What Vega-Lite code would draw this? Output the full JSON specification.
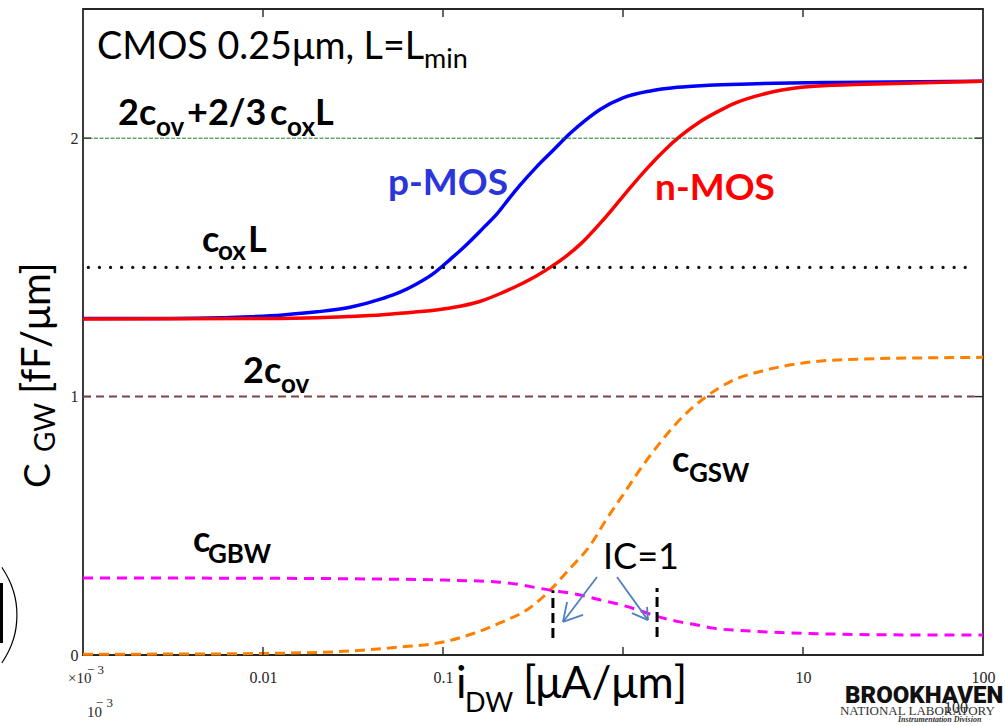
{
  "$schema": "https://vega.github.io/schema/vega-lite/v6.json",
  "width": 900,
  "height": 646,
  "autosize": {"type": "none"},
  "padding": {"left": 83, "top": 9, "right": 22, "bottom": 71},
  "background": "white",
  "config": {
    "view": {"stroke": "#262626", "strokeWidth": 1.8},
    "axis": {
      "domain": false,
      "grid": false,
      "ticks": false,
      "labelFont": "Liberation Serif",
      "labelFontSize": 16,
      "labelColor": "#262626",
      "title": null
    }
  },
  "datasets": {
    "curves": [
      {"series": "p-MOS", "x": 0.001, "y": 1.302},
      {"series": "p-MOS", "x": 0.003, "y": 1.302},
      {"series": "p-MOS", "x": 0.006, "y": 1.305},
      {"series": "p-MOS", "x": 0.0085, "y": 1.309},
      {"series": "p-MOS", "x": 0.0129, "y": 1.316},
      {"series": "p-MOS", "x": 0.02, "y": 1.328},
      {"series": "p-MOS", "x": 0.0305, "y": 1.346},
      {"series": "p-MOS", "x": 0.0464, "y": 1.38},
      {"series": "p-MOS", "x": 0.0577, "y": 1.404},
      {"series": "p-MOS", "x": 0.0713, "y": 1.436},
      {"series": "p-MOS", "x": 0.088, "y": 1.475},
      {"series": "p-MOS", "x": 0.11, "y": 1.532},
      {"series": "p-MOS", "x": 0.136, "y": 1.59},
      {"series": "p-MOS", "x": 0.167, "y": 1.652},
      {"series": "p-MOS", "x": 0.2, "y": 1.708},
      {"series": "p-MOS", "x": 0.235, "y": 1.77},
      {"series": "p-MOS", "x": 0.268, "y": 1.818},
      {"series": "p-MOS", "x": 0.33, "y": 1.888},
      {"series": "p-MOS", "x": 0.408, "y": 1.952},
      {"series": "p-MOS", "x": 0.507, "y": 2.018},
      {"series": "p-MOS", "x": 0.62, "y": 2.07},
      {"series": "p-MOS", "x": 0.75, "y": 2.112},
      {"series": "p-MOS", "x": 1.0, "y": 2.156},
      {"series": "p-MOS", "x": 1.42, "y": 2.183},
      {"series": "p-MOS", "x": 2.0, "y": 2.197},
      {"series": "p-MOS", "x": 3.0, "y": 2.205},
      {"series": "p-MOS", "x": 5.0, "y": 2.21},
      {"series": "p-MOS", "x": 15.0, "y": 2.216},
      {"series": "p-MOS", "x": 100.0, "y": 2.22},
      {"series": "n-MOS", "x": 0.001, "y": 1.3},
      {"series": "n-MOS", "x": 0.01, "y": 1.302},
      {"series": "n-MOS", "x": 0.02, "y": 1.305},
      {"series": "n-MOS", "x": 0.03, "y": 1.31},
      {"series": "n-MOS", "x": 0.0464, "y": 1.317},
      {"series": "n-MOS", "x": 0.07, "y": 1.327},
      {"series": "n-MOS", "x": 0.11, "y": 1.343},
      {"series": "n-MOS", "x": 0.16, "y": 1.368},
      {"series": "n-MOS", "x": 0.207, "y": 1.398},
      {"series": "n-MOS", "x": 0.268, "y": 1.434},
      {"series": "n-MOS", "x": 0.33, "y": 1.467},
      {"series": "n-MOS", "x": 0.4, "y": 1.503},
      {"series": "n-MOS", "x": 0.48, "y": 1.542},
      {"series": "n-MOS", "x": 0.576, "y": 1.588},
      {"series": "n-MOS", "x": 0.774, "y": 1.683},
      {"series": "n-MOS", "x": 1.0, "y": 1.775},
      {"series": "n-MOS", "x": 1.3, "y": 1.868},
      {"series": "n-MOS", "x": 1.67, "y": 1.948},
      {"series": "n-MOS", "x": 2.08, "y": 2.008},
      {"series": "n-MOS", "x": 2.68, "y": 2.064},
      {"series": "n-MOS", "x": 3.3, "y": 2.1},
      {"series": "n-MOS", "x": 4.1, "y": 2.133},
      {"series": "n-MOS", "x": 6.3, "y": 2.174},
      {"series": "n-MOS", "x": 9.5, "y": 2.196},
      {"series": "n-MOS", "x": 14.6, "y": 2.205},
      {"series": "n-MOS", "x": 22.4, "y": 2.209},
      {"series": "n-MOS", "x": 100.0, "y": 2.22},
      {"series": "cGSW", "x": 0.001, "y": 0.003},
      {"series": "cGSW", "x": 0.005, "y": 0.004},
      {"series": "cGSW", "x": 0.01, "y": 0.006},
      {"series": "cGSW", "x": 0.0245, "y": 0.012},
      {"series": "cGSW", "x": 0.0577, "y": 0.031},
      {"series": "cGSW", "x": 0.1, "y": 0.05},
      {"series": "cGSW", "x": 0.15, "y": 0.085},
      {"series": "cGSW", "x": 0.207, "y": 0.124},
      {"series": "cGSW", "x": 0.3, "y": 0.18},
      {"series": "cGSW", "x": 0.394, "y": 0.251},
      {"series": "cGSW", "x": 0.5, "y": 0.33},
      {"series": "cGSW", "x": 0.66, "y": 0.426},
      {"series": "cGSW", "x": 0.8, "y": 0.52},
      {"series": "cGSW", "x": 1.0, "y": 0.62},
      {"series": "cGSW", "x": 1.25, "y": 0.72},
      {"series": "cGSW", "x": 1.6, "y": 0.82},
      {"series": "cGSW", "x": 2.0, "y": 0.9},
      {"series": "cGSW", "x": 2.9, "y": 1.0},
      {"series": "cGSW", "x": 4.0, "y": 1.06},
      {"series": "cGSW", "x": 6.0, "y": 1.1},
      {"series": "cGSW", "x": 10.0, "y": 1.13},
      {"series": "cGSW", "x": 20.0, "y": 1.145},
      {"series": "cGSW", "x": 50.0, "y": 1.15},
      {"series": "cGSW", "x": 100.0, "y": 1.152},
      {"series": "cGBW", "x": 0.001, "y": 0.298},
      {"series": "cGBW", "x": 0.01, "y": 0.297},
      {"series": "cGBW", "x": 0.03, "y": 0.295},
      {"series": "cGBW", "x": 0.1, "y": 0.29},
      {"series": "cGBW", "x": 0.207, "y": 0.282},
      {"series": "cGBW", "x": 0.394, "y": 0.251},
      {"series": "cGBW", "x": 0.55, "y": 0.235},
      {"series": "cGBW", "x": 0.75, "y": 0.213},
      {"series": "cGBW", "x": 1.0, "y": 0.192},
      {"series": "cGBW", "x": 1.24, "y": 0.172},
      {"series": "cGBW", "x": 1.5, "y": 0.152},
      {"series": "cGBW", "x": 2.0, "y": 0.13},
      {"series": "cGBW", "x": 2.68, "y": 0.114},
      {"series": "cGBW", "x": 3.16, "y": 0.104},
      {"series": "cGBW", "x": 4.5, "y": 0.095},
      {"series": "cGBW", "x": 6.3, "y": 0.089},
      {"series": "cGBW", "x": 14.7, "y": 0.081},
      {"series": "cGBW", "x": 30.0, "y": 0.078},
      {"series": "cGBW", "x": 100.0, "y": 0.077}
    ],
    "frameTicks": [
      {"x": 0.01, "x2": 0.01, "y": 0, "y2": 0.031},
      {"x": 0.1, "x2": 0.1, "y": 0, "y2": 0.031},
      {"x": 1, "x2": 1, "y": 0, "y2": 0.031},
      {"x": 10, "x2": 10, "y": 0, "y2": 0.031},
      {"x": 0.01, "x2": 0.01, "y": 2.5, "y2": 2.469},
      {"x": 0.1, "x2": 0.1, "y": 2.5, "y2": 2.469},
      {"x": 1, "x2": 1, "y": 2.5, "y2": 2.469},
      {"x": 10, "x2": 10, "y": 2.5, "y2": 2.469},
      {"x": 0.001, "x2": 0.001108, "y": 1, "y2": 1},
      {"x": 0.001, "x2": 0.001108, "y": 2, "y2": 2},
      {"x": 100, "x2": 90.25, "y": 1, "y2": 1},
      {"x": 100, "x2": 90.25, "y": 2, "y2": 2}
    ],
    "levelTop": [{"x": 0.001, "x2": 100, "y": 2}],
    "levelOx": [{"x": 0.00107, "x2": 90, "y": 1.5}],
    "levelOv": [{"x": 0.001, "x2": 90, "y": 1}],
    "icMarks": [
      {"x": 0.408, "y": 0.066, "y2": 0.251},
      {"x": 1.546, "y": 0.07, "y2": 0.259}
    ],
    "icArrows": [
      {"x": 0.717, "y": 0.302, "x2": 0.464, "y2": 0.128},
      {"x": 0.489, "y": 0.205, "x2": 0.464, "y2": 0.128},
      {"x": 0.5995, "y": 0.155, "x2": 0.464, "y2": 0.128},
      {"x": 0.926, "y": 0.302, "x2": 1.377, "y2": 0.135},
      {"x": 1.359, "y": 0.186, "x2": 1.377, "y2": 0.135},
      {"x": 1.122, "y": 0.162, "x2": 1.377, "y2": 0.135}
    ],
    "edgeBar": [{"x": 0.0003525, "y": 0.0464, "y2": 0.2785}],
    "edgeParen": [{"text": ")", "x": 0.000333, "y": 0.0193}],
    "plainText": [
      {"text": "CMOS 0.25μm, L=L", "x": 0.001196, "y": 2.3056}
    ],
    "icText": [
      {"text": "IC=1", "x": 0.7743, "y": 0.3327}
    ],
    "plainSub": [
      {"text": "min", "x": 0.07839, "y": 2.2708}
    ],
    "boldText": [
      {"text": "2c", "x": 0.001565, "y": 2.0503},
      {"text": "+2/3", "x": 0.003783, "y": 2.0503},
      {"text": "c", "x": 0.01094, "y": 2.0503},
      {"text": "L", "x": 0.01945, "y": 2.0503},
      {"text": "c", "x": 0.004583, "y": 1.559},
      {"text": "L", "x": 0.008254, "y": 1.559},
      {"text": "2c", "x": 0.007743, "y": 1.0522},
      {"text": "c", "x": 1.872, "y": 0.7079},
      {"text": "c", "x": 0.004084, "y": 0.3985}
    ],
    "boldSub": [
      {"text": "ov", "x": 0.002544, "y": 2.0077},
      {"text": "ox", "x": 0.0136, "y": 2.0077},
      {"text": "ox", "x": 0.005623, "y": 1.528},
      {"text": "ov", "x": 0.012589, "y": 1.0135},
      {"text": "GSW", "x": 2.326, "y": 0.6692},
      {"text": "GBW", "x": 0.004948, "y": 0.3559}
    ],
    "pLabel": [{"text": "p-MOS", "x": 0.04948, "y": 1.7795}],
    "nLabel": [{"text": "n-MOS", "x": 1.506, "y": 1.7602}],
    "yTitleSymbol": [{"text": "C", "x": 0.000656, "y": 0.646}],
    "yTitleSub": [{"text": "GW", "x": 0.000699, "y": 0.7853}],
    "yTitleUnit": [{"text": "[fF/μm]", "x": 0.000656, "y": 1.0097}],
    "xTitle": [
      {"text": "i", "x": 0.1181, "y": -0.1663},
      {"text": "[μA/μm]", "x": 0.2783, "y": -0.1663}
    ],
    "xTitleSub": [{"text": "DW", "x": 0.1326, "y": -0.2205}],
    "exponentBase": [
      {"text": "×10", "x": 0.000825, "y": -0.1083},
      {"text": "10", "x": 0.001052, "y": -0.2398}
    ],
    "exponentPower": [
      {"text": "− 3", "x": 0.001051, "y": -0.0735},
      {"text": "− 3", "x": 0.001178, "y": -0.2011}
    ],
    "extraTick": [{"text": "100", "x": 70.8, "y": -0.2244}],
    "labName": [{"text": "BROOKHAVEN", "x": 17.11, "y": -0.1857}],
    "labSub": [{"text": "NATIONAL LABORATORY", "x": 16.05, "y": -0.2321}],
    "labDiv": [{"text": "Instrumentation Division", "x": 33.71, "y": -0.2592}]
  },
  "layer": [
    {
      "data": {"name": "curves"},
      "transform": [{"filter": "datum.series == 'p-MOS'"}],
      "mark": {"type": "line", "color": "#0000ff", "strokeWidth": 3.5, "interpolate": "monotone"},
      "encoding": {
        "x": {
          "field": "x", "type": "quantitative",
          "scale": {"type": "log", "domain": [0.001, 100], "nice": false},
          "axis": {
            "orient": "bottom",
            "values": [0.001, 0.01, 0.1, 1, 10, 100],
            "labelPadding": 27,
            "labelBaseline": "alphabetic",
            "labelFlush": false,
            "labelExpr": "datum.value == 0.01 ? '0.01' : datum.value == 0.1 ? '0.1' : datum.value == 10 ? '10' : datum.value == 100 ? '100' : ''"
          }
        },
        "y": {
          "field": "y", "type": "quantitative",
          "scale": {"domain": [0, 2.5], "nice": false, "zero": false},
          "axis": {
            "orient": "left",
            "values": [0, 1, 2],
            "format": "d",
            "labelPadding": 5,
            "labelFlush": false
          }
        }
      }
    },
    {
      "data": {"name": "curves"},
      "transform": [{"filter": "datum.series == 'n-MOS'"}],
      "mark": {"type": "line", "color": "#ff0000", "strokeWidth": 3.5, "interpolate": "monotone"},
      "encoding": {
        "x": {"field": "x", "type": "quantitative", "scale": {"type": "log", "domain": [0.001, 100], "nice": false}},
        "y": {"field": "y", "type": "quantitative", "scale": {"domain": [0, 2.5], "nice": false, "zero": false}}
      }
    },
    {
      "data": {"name": "curves"},
      "transform": [{"filter": "datum.series == 'cGSW'"}],
      "mark": {"type": "line", "color": "#ff8000", "strokeWidth": 3, "strokeDash": [10, 6], "interpolate": "monotone"},
      "encoding": {
        "x": {"field": "x", "type": "quantitative", "scale": {"type": "log", "domain": [0.001, 100], "nice": false}},
        "y": {"field": "y", "type": "quantitative", "scale": {"domain": [0, 2.5], "nice": false, "zero": false}}
      }
    },
    {
      "data": {"name": "curves"},
      "transform": [{"filter": "datum.series == 'cGBW'"}],
      "mark": {"type": "line", "color": "#ff00ff", "strokeWidth": 3, "strokeDash": [10, 7], "interpolate": "monotone"},
      "encoding": {
        "x": {"field": "x", "type": "quantitative", "scale": {"type": "log", "domain": [0.001, 100], "nice": false}},
        "y": {"field": "y", "type": "quantitative", "scale": {"domain": [0, 2.5], "nice": false, "zero": false}}
      }
    },
    {
      "data": {"name": "frameTicks"},
      "mark": {"type": "rule", "color": "#262626", "strokeWidth": 1.4},
      "encoding": {
        "x": {"field": "x", "type": "quantitative", "scale": {"type": "log", "domain": [0.001, 100], "nice": false}},
        "x2": {"field": "x2"},
        "y": {"field": "y", "type": "quantitative", "scale": {"domain": [0, 2.5], "nice": false, "zero": false}},
        "y2": {"field": "y2"}
      }
    },
    {
      "data": {"name": "levelTop"},
      "mark": {"type": "rule", "color": "#217821", "strokeWidth": 1, "strokeDash": [4, 1.5]},
      "encoding": {
        "x": {"field": "x", "type": "quantitative", "scale": {"type": "log", "domain": [0.001, 100], "nice": false}},
        "x2": {"field": "x2"},
        "y": {"field": "y", "type": "quantitative", "scale": {"domain": [0, 2.5], "nice": false, "zero": false}}
      }
    },
    {
      "data": {"name": "levelOx"},
      "mark": {"type": "rule", "color": "#111111", "strokeWidth": 3.2, "strokeDash": [0.1, 11], "strokeCap": "round"},
      "encoding": {
        "x": {"field": "x", "type": "quantitative", "scale": {"type": "log", "domain": [0.001, 100], "nice": false}},
        "x2": {"field": "x2"},
        "y": {"field": "y", "type": "quantitative", "scale": {"domain": [0, 2.5], "nice": false, "zero": false}}
      }
    },
    {
      "data": {"name": "levelOv"},
      "mark": {"type": "rule", "color": "#7d4545", "strokeWidth": 2, "strokeDash": [8, 5]},
      "encoding": {
        "x": {"field": "x", "type": "quantitative", "scale": {"type": "log", "domain": [0.001, 100], "nice": false}},
        "x2": {"field": "x2"},
        "y": {"field": "y", "type": "quantitative", "scale": {"domain": [0, 2.5], "nice": false, "zero": false}}
      }
    },
    {
      "data": {"name": "icMarks"},
      "mark": {"type": "rule", "color": "#000000", "strokeWidth": 3, "strokeDash": [10, 5]},
      "encoding": {
        "x": {"field": "x", "type": "quantitative", "scale": {"type": "log", "domain": [0.001, 100], "nice": false}},
        "y": {"field": "y", "type": "quantitative", "scale": {"domain": [0, 2.5], "nice": false, "zero": false}},
        "y2": {"field": "y2"}
      }
    },
    {
      "data": {"name": "icArrows"},
      "mark": {"type": "rule", "color": "#4f81bd", "strokeWidth": 1.8},
      "encoding": {
        "x": {"field": "x", "type": "quantitative", "scale": {"type": "log", "domain": [0.001, 100], "nice": false}},
        "x2": {"field": "x2"},
        "y": {"field": "y", "type": "quantitative", "scale": {"domain": [0, 2.5], "nice": false, "zero": false}},
        "y2": {"field": "y2"}
      }
    },
    {
      "data": {"name": "edgeBar"},
      "mark": {"type": "rule", "color": "#000000", "strokeWidth": 3},
      "encoding": {
        "x": {"field": "x", "type": "quantitative", "scale": {"type": "log", "domain": [0.001, 100], "nice": false}},
        "y": {"field": "y", "type": "quantitative", "scale": {"domain": [0, 2.5], "nice": false, "zero": false}},
        "y2": {"field": "y2"}
      }
    },
    {
      "data": {"name": "edgeParen"},
      "mark": {"type": "text", "align": "left", "baseline": "alphabetic", "font": "Lato", "fontWeight": 100, "fontSize": 110, "color": "#000000"},
      "encoding": {
        "x": {"field": "x", "type": "quantitative", "scale": {"type": "log", "domain": [0.001, 100], "nice": false}},
        "y": {"field": "y", "type": "quantitative", "scale": {"domain": [0, 2.5], "nice": false, "zero": false}},
        "text": {"field": "text"}
      }
    },
    {
      "data": {"name": "plainText"},
      "mark": {"type": "text", "align": "left", "baseline": "alphabetic", "font": "Lato", "fontSize": 37.7, "color": "#000000"},
      "encoding": {
        "x": {"field": "x", "type": "quantitative", "scale": {"type": "log", "domain": [0.001, 100], "nice": false}},
        "y": {"field": "y", "type": "quantitative", "scale": {"domain": [0, 2.5], "nice": false, "zero": false}},
        "text": {"field": "text"}
      }
    },
    {
      "data": {"name": "icText"},
      "mark": {"type": "text", "align": "left", "baseline": "alphabetic", "font": "Lato", "fontSize": 36, "color": "#000000"},
      "encoding": {
        "x": {"field": "x", "type": "quantitative", "scale": {"type": "log", "domain": [0.001, 100], "nice": false}},
        "y": {"field": "y", "type": "quantitative", "scale": {"domain": [0, 2.5], "nice": false, "zero": false}},
        "text": {"field": "text"}
      }
    },
    {
      "data": {"name": "plainSub"},
      "mark": {"type": "text", "align": "left", "baseline": "alphabetic", "font": "Lato", "fontSize": 27, "color": "#000000"},
      "encoding": {
        "x": {"field": "x", "type": "quantitative", "scale": {"type": "log", "domain": [0.001, 100], "nice": false}},
        "y": {"field": "y", "type": "quantitative", "scale": {"domain": [0, 2.5], "nice": false, "zero": false}},
        "text": {"field": "text"}
      }
    },
    {
      "data": {"name": "boldText"},
      "mark": {"type": "text", "align": "left", "baseline": "alphabetic", "font": "Lato", "fontWeight": "bold", "fontSize": 36, "color": "#000000"},
      "encoding": {
        "x": {"field": "x", "type": "quantitative", "scale": {"type": "log", "domain": [0.001, 100], "nice": false}},
        "y": {"field": "y", "type": "quantitative", "scale": {"domain": [0, 2.5], "nice": false, "zero": false}},
        "text": {"field": "text"}
      }
    },
    {
      "data": {"name": "boldSub"},
      "mark": {"type": "text", "align": "left", "baseline": "alphabetic", "font": "Lato", "fontWeight": "bold", "fontSize": 26, "color": "#000000"},
      "encoding": {
        "x": {"field": "x", "type": "quantitative", "scale": {"type": "log", "domain": [0.001, 100], "nice": false}},
        "y": {"field": "y", "type": "quantitative", "scale": {"domain": [0, 2.5], "nice": false, "zero": false}},
        "text": {"field": "text"}
      }
    },
    {
      "data": {"name": "pLabel"},
      "mark": {"type": "text", "align": "left", "baseline": "alphabetic", "font": "Lato", "fontWeight": "bold", "fontSize": 37, "color": "#2a36d9"},
      "encoding": {
        "x": {"field": "x", "type": "quantitative", "scale": {"type": "log", "domain": [0.001, 100], "nice": false}},
        "y": {"field": "y", "type": "quantitative", "scale": {"domain": [0, 2.5], "nice": false, "zero": false}},
        "text": {"field": "text"}
      }
    },
    {
      "data": {"name": "nLabel"},
      "mark": {"type": "text", "align": "left", "baseline": "alphabetic", "font": "Lato", "fontWeight": "bold", "fontSize": 37, "color": "#ff0000"},
      "encoding": {
        "x": {"field": "x", "type": "quantitative", "scale": {"type": "log", "domain": [0.001, 100], "nice": false}},
        "y": {"field": "y", "type": "quantitative", "scale": {"domain": [0, 2.5], "nice": false, "zero": false}},
        "text": {"field": "text"}
      }
    },
    {
      "data": {"name": "yTitleSymbol"},
      "mark": {"type": "text", "align": "left", "baseline": "alphabetic", "angle": 270, "font": "Lato", "fontSize": 37, "color": "#000000"},
      "encoding": {
        "x": {"field": "x", "type": "quantitative", "scale": {"type": "log", "domain": [0.001, 100], "nice": false}},
        "y": {"field": "y", "type": "quantitative", "scale": {"domain": [0, 2.5], "nice": false, "zero": false}},
        "text": {"field": "text"}
      }
    },
    {
      "data": {"name": "yTitleSub"},
      "mark": {"type": "text", "align": "left", "baseline": "alphabetic", "angle": 270, "font": "Lato", "fontSize": 28, "color": "#000000"},
      "encoding": {
        "x": {"field": "x", "type": "quantitative", "scale": {"type": "log", "domain": [0.001, 100], "nice": false}},
        "y": {"field": "y", "type": "quantitative", "scale": {"domain": [0, 2.5], "nice": false, "zero": false}},
        "text": {"field": "text"}
      }
    },
    {
      "data": {"name": "yTitleUnit"},
      "mark": {"type": "text", "align": "left", "baseline": "alphabetic", "angle": 270, "font": "Lato", "fontSize": 40, "color": "#000000"},
      "encoding": {
        "x": {"field": "x", "type": "quantitative", "scale": {"type": "log", "domain": [0.001, 100], "nice": false}},
        "y": {"field": "y", "type": "quantitative", "scale": {"domain": [0, 2.5], "nice": false, "zero": false}},
        "text": {"field": "text"}
      }
    },
    {
      "data": {"name": "xTitle"},
      "mark": {"type": "text", "align": "left", "baseline": "alphabetic", "font": "Lato", "fontSize": 44, "color": "#000000"},
      "encoding": {
        "x": {"field": "x", "type": "quantitative", "scale": {"type": "log", "domain": [0.001, 100], "nice": false}},
        "y": {"field": "y", "type": "quantitative", "scale": {"domain": [0, 2.5], "nice": false, "zero": false}},
        "text": {"field": "text"}
      }
    },
    {
      "data": {"name": "xTitleSub"},
      "mark": {"type": "text", "align": "left", "baseline": "alphabetic", "font": "Lato", "fontSize": 27, "color": "#000000"},
      "encoding": {
        "x": {"field": "x", "type": "quantitative", "scale": {"type": "log", "domain": [0.001, 100], "nice": false}},
        "y": {"field": "y", "type": "quantitative", "scale": {"domain": [0, 2.5], "nice": false, "zero": false}},
        "text": {"field": "text"}
      }
    },
    {
      "data": {"name": "exponentBase"},
      "mark": {"type": "text", "align": "left", "baseline": "alphabetic", "font": "Liberation Serif", "fontSize": 15, "color": "#262626"},
      "encoding": {
        "x": {"field": "x", "type": "quantitative", "scale": {"type": "log", "domain": [0.001, 100], "nice": false}},
        "y": {"field": "y", "type": "quantitative", "scale": {"domain": [0, 2.5], "nice": false, "zero": false}},
        "text": {"field": "text"}
      }
    },
    {
      "data": {"name": "exponentPower"},
      "mark": {"type": "text", "align": "left", "baseline": "alphabetic", "font": "Liberation Serif", "fontSize": 13, "color": "#262626"},
      "encoding": {
        "x": {"field": "x", "type": "quantitative", "scale": {"type": "log", "domain": [0.001, 100], "nice": false}},
        "y": {"field": "y", "type": "quantitative", "scale": {"domain": [0, 2.5], "nice": false, "zero": false}},
        "text": {"field": "text"}
      }
    },
    {
      "data": {"name": "extraTick"},
      "mark": {"type": "text", "align": "center", "baseline": "alphabetic", "font": "Liberation Serif", "fontSize": 16, "color": "#262626"},
      "encoding": {
        "x": {"field": "x", "type": "quantitative", "scale": {"type": "log", "domain": [0.001, 100], "nice": false}},
        "y": {"field": "y", "type": "quantitative", "scale": {"domain": [0, 2.5], "nice": false, "zero": false}},
        "text": {"field": "text"}
      }
    },
    {
      "data": {"name": "labName"},
      "mark": {"type": "text", "align": "left", "baseline": "alphabetic", "font": "Roboto", "fontWeight": 900, "fontSize": 24, "color": "#111111"},
      "encoding": {
        "x": {"field": "x", "type": "quantitative", "scale": {"type": "log", "domain": [0.001, 100], "nice": false}},
        "y": {"field": "y", "type": "quantitative", "scale": {"domain": [0, 2.5], "nice": false, "zero": false}},
        "text": {"field": "text"}
      }
    },
    {
      "data": {"name": "labSub"},
      "mark": {"type": "text", "align": "left", "baseline": "alphabetic", "font": "Liberation Serif", "fontSize": 13, "color": "#333333"},
      "encoding": {
        "x": {"field": "x", "type": "quantitative", "scale": {"type": "log", "domain": [0.001, 100], "nice": false}},
        "y": {"field": "y", "type": "quantitative", "scale": {"domain": [0, 2.5], "nice": false, "zero": false}},
        "text": {"field": "text"}
      }
    },
    {
      "data": {"name": "labDiv"},
      "mark": {"type": "text", "align": "left", "baseline": "alphabetic", "font": "Liberation Serif", "fontStyle": "italic", "fontWeight": "bold", "fontSize": 8, "color": "#333333"},
      "encoding": {
        "x": {"field": "x", "type": "quantitative", "scale": {"type": "log", "domain": [0.001, 100], "nice": false}},
        "y": {"field": "y", "type": "quantitative", "scale": {"domain": [0, 2.5], "nice": false, "zero": false}},
        "text": {"field": "text"}
      }
    }
  ]
}
